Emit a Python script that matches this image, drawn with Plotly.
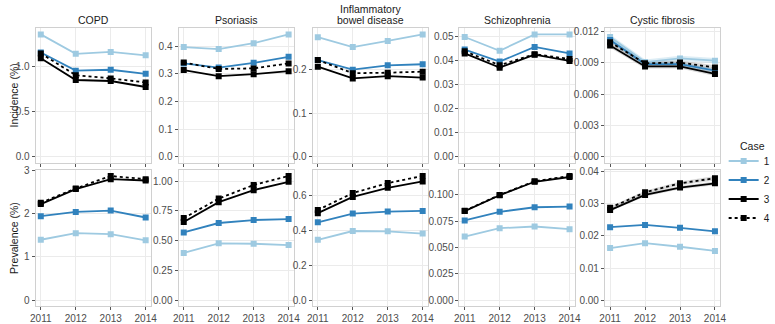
import plotly.graph_objects as go

years = [2011, 2012, 2013, 2014]
diseases = ["COPD", "Psoriasis", "Inflammatory<br>bowel disease", "Schizophrenia", "Cystic fibrosis"]
cases = ["1", "2", "3", "4"]
row_titles = ["Incidence (%)", "Prevalence (%)"]
legend_title = "Case"

# values per case (rows: case 1..4), columns: 2011..2014
copd_incidence = [[1.35, 1.136, 1.157, 1.119], [1.15, 0.95, 0.96, 0.915],
                  [1.086, 0.847, 0.836, 0.77], [1.14, 0.90, 0.865, 0.82]]
psoriasis_incidence = [[0.397, 0.39, 0.411, 0.443], [0.338, 0.323, 0.34, 0.362],
                       [0.314, 0.292, 0.299, 0.31], [0.341, 0.318, 0.32, 0.338]]
ibd_incidence = [[0.2745, 0.252, 0.266, 0.281], [0.222, 0.2, 0.21, 0.2125],
                 [0.207, 0.18, 0.185, 0.182], [0.222, 0.192, 0.193, 0.1955]]
schizo_incidence = [[0.0497, 0.044, 0.0508, 0.0508], [0.0445, 0.0395, 0.0456, 0.0429],
                    [0.0429, 0.037, 0.0424, 0.0398], [0.0438, 0.038, 0.0426, 0.0406]]
cf_incidence = [[0.01148, 0.00909, 0.00944, 0.00922], [0.0112, 0.00888, 0.00888, 0.00826],
                [0.01067, 0.00867, 0.00867, 0.00795], [0.01099, 0.00897, 0.00904, 0.00857]]

copd_prevalence = [[1.394, 1.545, 1.523, 1.38], [1.937, 2.036, 2.066, 1.907],
                   [2.217, 2.563, 2.79, 2.76], [2.247, 2.578, 2.865, 2.79]]
psoriasis_prevalence = [[0.397, 0.477, 0.474, 0.463], [0.569, 0.648, 0.673, 0.681],
                        [0.657, 0.823, 0.924, 0.994], [0.689, 0.853, 0.967, 1.043]]
ibd_prevalence = [[0.3456, 0.396, 0.394, 0.381], [0.446, 0.496, 0.507, 0.511],
                  [0.498, 0.591, 0.643, 0.68], [0.516, 0.613, 0.67, 0.711]]
schizo_prevalence = [[0.0604, 0.0684, 0.07, 0.0675], [0.0758, 0.0839, 0.0883, 0.0889],
                     [0.0846, 0.0997, 0.1125, 0.117], [0.085, 0.1, 0.113, 0.118]]
cf_prevalence = [[0.0162, 0.0177, 0.0166, 0.0153], [0.0227, 0.0234, 0.0225, 0.0214],
                 [0.028, 0.0327, 0.035, 0.0363], [0.0287, 0.0335, 0.0363, 0.0379]]

# confidence ribbons (visible only for cystic fibrosis)
cf_incidence_lower = [[0.01122, 0.00884, 0.00918, 0.00897], [0.0110, 0.00868, 0.00868, 0.00806],
                      [0.01047, 0.00847, 0.00847, 0.00775], [0.01079, 0.00877, 0.00884, 0.00837]]
cf_incidence_upper = [[0.01174, 0.00934, 0.0097, 0.00947], [0.0114, 0.00908, 0.00908, 0.00846],
                      [0.01087, 0.00887, 0.00887, 0.00815], [0.01119, 0.00917, 0.00924, 0.00877]]
cf_prevalence_lower = [None, None, [0.0276, 0.0322, 0.0345, 0.0357], [0.0283, 0.0330, 0.0357, 0.0372]]
cf_prevalence_upper = [None, None, [0.0284, 0.0332, 0.0355, 0.0369], [0.0291, 0.0340, 0.0369, 0.0386]]

incidence_rows = [copd_incidence, psoriasis_incidence, ibd_incidence, schizo_incidence, cf_incidence]
prevalence_rows = [copd_prevalence, psoriasis_prevalence, ibd_prevalence, schizo_prevalence, cf_prevalence]

inc_dtick = [0.5, 0.1, 0.1, 0.01, 0.003]
inc_fmt = [".1f", ".1f", ".1f", ".2f", ".3f"]
prev_dtick = [1, 0.25, 0.2, 0.025, 0.01]
prev_fmt = ["d", ".2f", ".1f", ".3f", ".2f"]

colors = ["#9ecae1", "#3182bd", "#000000", "#000000"]
ribbon_colors = ["rgba(158,202,225,0.35)", "rgba(49,130,189,0.25)", "rgba(0,0,0,0.15)", "rgba(0,0,0,0.15)"]
dashes = ["solid", "solid", "solid", "dot"]

W, H = 775, 324
col_px = [(31, 148), (176, 293), (312, 429), (461, 578), (608.5, 725.5)]
row_px = [(24, 163), (170, 311)]

fig = go.Figure()
layout = {}
font = "Liberation Sans, Arial, sans-serif"

for r in range(2):
    for c in range(5):
        idx = r * 5 + c + 1
        xa = "x" if idx == 1 else f"x{idx}"
        ya = "y" if idx == 1 else f"y{idx}"
        data = incidence_rows[c] if r == 0 else prevalence_rows[c]
        lows = highs = None
        if c == 4:
            lows = cf_incidence_lower if r == 0 else cf_prevalence_lower
            highs = cf_incidence_upper if r == 0 else cf_prevalence_upper
        ymax = 0
        for k in range(4):
            ymax = max(ymax, max(data[k]))
            if highs is not None and highs[k] is not None:
                ymax = max(ymax, max(highs[k]))
        if lows is not None:
            for k in range(4):
                if lows[k] is None:
                    continue
                fig.add_trace(go.Scatter(
                    x=years + years[::-1], y=highs[k] + lows[k][::-1],
                    fill="toself", fillcolor=ribbon_colors[k], line=dict(width=0),
                    mode="lines", showlegend=False, hoverinfo="skip",
                    xaxis=xa, yaxis=ya))
        for k in range(4):
            fig.add_trace(go.Scatter(
                x=years, y=data[k], mode="lines+markers", name=cases[k],
                legendgroup=cases[k], showlegend=(idx == 1),
                line=dict(color=colors[k], width=1.8, dash=dashes[k]),
                marker=dict(symbol="square", size=6, color=colors[k]),
                xaxis=xa, yaxis=ya))
        x0, x1 = col_px[c]
        y0, y1 = row_px[r]
        axis_common = dict(showline=True, mirror=True, linecolor="#d0d0d0", linewidth=1,
                           showgrid=True, gridcolor="#ebebeb", gridwidth=1, zeroline=False,
                           ticks="outside", ticklen=3, tickcolor="#555555", tickwidth=1,
                           tickfont=dict(family=font, size=10, color="#4d4d4d"))
        layout["xaxis" if idx == 1 else f"xaxis{idx}"] = dict(
            domain=[x0 / W, x1 / W], anchor=ya, range=[2010.85, 2014.15],
            tickvals=years, showticklabels=(r == 1), **axis_common)
        dt = inc_dtick[c] if r == 0 else prev_dtick[c]
        fmt = inc_fmt[c] if r == 0 else prev_fmt[c]
        layout["yaxis" if idx == 1 else f"yaxis{idx}"] = dict(
            domain=[1 - y1 / H, 1 - y0 / H], anchor=xa,
            range=[-0.05 * ymax, 1.05 * ymax], tick0=0, dtick=dt, tickformat=fmt,
            **axis_common)

annotations = []
for c in range(5):
    x0, x1 = col_px[c]
    lines = diseases[c].split("<br>")
    n = len(lines)
    for j, line in enumerate(lines):
        yc = 15 - (n - 1 - j) * 10.5
        annotations.append(dict(text=line, x=(x0 + x1) / 2 / W, y=1 - yc / H,
                                xref="paper", yref="paper", xanchor="center", yanchor="middle",
                                showarrow=False, font=dict(family=font, size=10.5, color="#1a1a1a")))
for r in range(2):
    y0, y1 = row_px[r]
    annotations.append(dict(text=row_titles[r], x=9 / W, y=1 - (y0 + y1) / 2 / H,
                            xref="paper", yref="paper", xanchor="center", yanchor="middle",
                            textangle=-90, showarrow=False,
                            font=dict(family=font, size=10.5, color="#1a1a1a")))
annotations.append(dict(text=legend_title, x=744 / W, y=1 - 145 / H, xref="paper", yref="paper",
                        xanchor="left", yanchor="middle", showarrow=False,
                        font=dict(family=font, size=10.5, color="#1a1a1a")))

fig.update_layout(
    width=W, height=H, margin=dict(l=0, r=0, t=0, b=0),
    paper_bgcolor="white", plot_bgcolor="white",
    annotations=annotations,
    legend=dict(x=729 / W, y=1 - 146 / H, xanchor="left", yanchor="top",
                font=dict(family=font, size=10, color="#1a1a1a"),
                itemwidth=30, bgcolor="rgba(0,0,0,0)", tracegroupgap=0),
    **layout)

fig.write_html("out.html", config={"displayModeBar": False},
               post_script="document.body.style.margin='0';document.body.style.overflow='hidden';")
